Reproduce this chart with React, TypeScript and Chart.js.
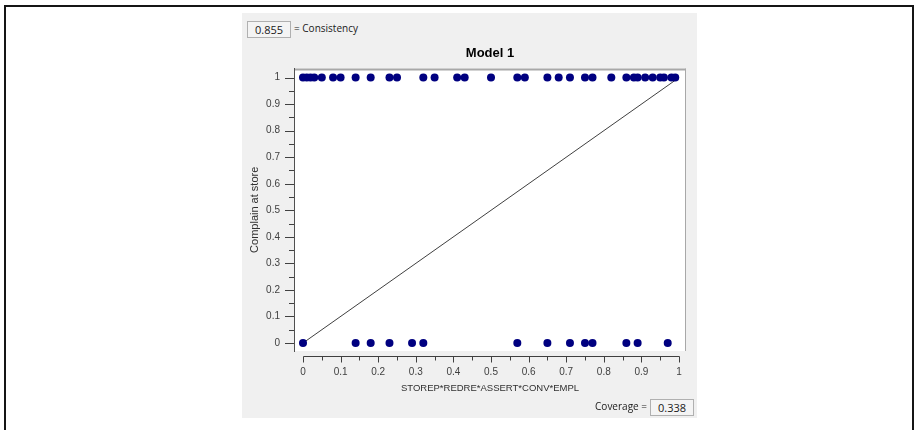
import React, { useEffect, useRef } from "react";
import { Chart, registerables } from "chart.js";

Chart.register(...registerables);

// ---- data ----
const chartTitle = "Model 1";
const xAxisTitle = "STOREP*REDRE*ASSERT*CONV*EMPL";
const yAxisTitle = "Complain at store";
const consistencyValue = "0.855";
const coverageValue = "0.338";

// cases with outcome = 1 (x = membership score)
const outcomeOneX = [
  0, 0.01, 0.02, 0.03, 0.05, 0.08, 0.1, 0.14, 0.18, 0.23, 0.25, 0.32, 0.35, 0.41, 0.43, 0.5,
  0.57, 0.59, 0.65, 0.68, 0.71, 0.75, 0.77, 0.82, 0.86, 0.88, 0.89, 0.91, 0.93, 0.95, 0.96,
  0.98, 0.99,
];
// cases with outcome = 0
const outcomeZeroX = [0, 0.14, 0.18, 0.23, 0.29, 0.32, 0.57, 0.65, 0.71, 0.75, 0.77, 0.86, 0.89, 0.97];
// diagonal reference line
const diagonalX = [0, 1];
const diagonalY = [0, 1];
// tick values
const majorTicks = [0, 0.1, 0.2, 0.3, 0.4, 0.5, 0.6, 0.7, 0.8, 0.9, 1];
const minorTicks = [0.05, 0.15, 0.25, 0.35, 0.45, 0.55, 0.65, 0.75, 0.85, 0.95];

const FONT = "'Liberation Sans', Arial, sans-serif";
const UI_FONT = "'Open Sans', 'Noto Sans', sans-serif";
const AXIS_COLOR = "#404040";

const plotBackground = {
  id: "plotBackground",
  beforeDraw(chart: any) {
    const { ctx, chartArea: a } = chart;
    ctx.save();
    ctx.fillStyle = "#ffffff";
    ctx.fillRect(a.left, a.top, a.right - a.left, a.bottom - a.top);
    ctx.strokeStyle = "#a8a8a8";
    ctx.lineWidth = 2;
    ctx.beginPath();
    ctx.moveTo(a.left, a.top + 1);
    ctx.lineTo(a.right, a.top + 1);
    ctx.stroke();
    ctx.lineWidth = 1;
    ctx.beginPath();
    ctx.moveTo(a.right - 0.5, a.top);
    ctx.lineTo(a.right - 0.5, a.bottom);
    ctx.stroke();
    ctx.restore();
  },
};

const axisTicks = {
  id: "axisTicks",
  afterDraw(chart: any) {
    const { ctx, chartArea: a, scales } = chart;
    const xs = scales.x;
    const ys = scales.y;
    ctx.save();
    ctx.strokeStyle = AXIS_COLOR;
    ctx.lineWidth = 1;
    ctx.beginPath();
    // y-axis tick marks
    majorTicks.forEach((v) => {
      const py = Math.round(ys.getPixelForValue(v)) + 0.5;
      ctx.moveTo(a.left - 9, py);
      ctx.lineTo(a.left, py);
    });
    minorTicks.forEach((v) => {
      const py = Math.round(ys.getPixelForValue(v)) + 0.5;
      ctx.moveTo(a.left - 5, py);
      ctx.lineTo(a.left, py);
    });
    // detached x axis
    const yy = Math.round(a.bottom + 5) + 0.5;
    const x0 = Math.round(xs.getPixelForValue(0)) + 0.5;
    const x1 = Math.round(xs.getPixelForValue(1)) + 0.5;
    ctx.moveTo(x0, yy);
    ctx.lineTo(x1, yy);
    majorTicks.forEach((v) => {
      const px = Math.round(xs.getPixelForValue(v)) + 0.5;
      ctx.moveTo(px, yy);
      ctx.lineTo(px, yy + 6);
    });
    minorTicks.forEach((v) => {
      const px = Math.round(xs.getPixelForValue(v)) + 0.5;
      ctx.moveTo(px, yy);
      ctx.lineTo(px, yy + 4);
    });
    ctx.stroke();
    ctx.restore();
  },
};

const fmt = (v: number) => String(Math.round(v * 10) / 10);

export default function App() {
  const ref = useRef<HTMLCanvasElement | null>(null);

  useEffect(() => {
    if (!ref.current) return;
    const chart = new Chart(ref.current, {
      type: "scatter",
      data: {
        datasets: [
          {
            type: "scatter",
            data: outcomeOneX.map((x) => ({ x, y: 1 })),
            backgroundColor: "#000080",
            borderWidth: 0,
            pointRadius: 4,
            order: 1,
          },
          {
            type: "scatter",
            data: outcomeZeroX.map((x) => ({ x, y: 0 })),
            backgroundColor: "#000080",
            borderWidth: 0,
            pointRadius: 4,
            order: 1,
          },
          {
            type: "line",
            data: diagonalX.map((x, i) => ({ x, y: diagonalY[i] })),
            borderColor: "#404040",
            borderWidth: 1,
            pointRadius: 0,
            fill: false,
            order: 2,
          } as any,
        ],
      },
      options: {
        responsive: false,
        animation: false,
        devicePixelRatio: 1,
        layout: { padding: { left: 242, right: 232, top: 40, bottom: 34 } },
        plugins: {
          legend: { display: false },
          tooltip: { enabled: false },
          title: {
            display: true,
            text: chartTitle,
            fullSize: false,
            color: "#000000",
            font: { family: FONT, size: 13, weight: "bold" },
            padding: { top: 6, bottom: 7 },
          },
        },
        scales: {
          x: {
            type: "linear",
            min: -9 / 376,
            max: 1 + 7 / 376,
            grid: { display: false, drawTicks: false },
            border: { display: false },
            afterBuildTicks: (s: any) => {
              s.ticks = majorTicks.map((v) => ({ value: v }));
            },
            afterFit: (s: any) => {
              s.height = 45;
            },
            ticks: {
              autoSkip: false,
              maxRotation: 0,
              padding: 15,
              color: AXIS_COLOR,
              font: { family: FONT, size: 10 },
              callback: (v: any) => fmt(Number(v)),
            },
            title: {
              display: true,
              text: xAxisTitle,
              color: "#303030",
              font: { family: FONT, size: 9.5 },
              padding: { top: 0, bottom: 2 },
            },
          },
          y: {
            type: "linear",
            min: -8 / 265,
            max: 1 + 9 / 265,
            grid: { display: false, drawTicks: false },
            border: { display: true, color: "#505050", width: 1 },
            afterBuildTicks: (s: any) => {
              s.ticks = majorTicks.map((v) => ({ value: v }));
            },
            afterFit: (s: any) => {
              s.width = 52;
            },
            ticks: {
              autoSkip: false,
              padding: 14,
              color: AXIS_COLOR,
              font: { family: FONT, size: 10 },
              callback: (v: any) => fmt(Number(v)),
            },
            title: {
              display: true,
              text: yAxisTitle,
              color: "#303030",
              font: { family: FONT, size: 11 },
              padding: { top: 6, bottom: 0 },
            },
          },
        },
      },
      plugins: [plotBackground, axisTicks],
    });
    return () => chart.destroy();
  }, []);

  const boxStyle: React.CSSProperties = {
    position: "absolute",
    boxSizing: "border-box",
    border: "1px solid #b0b0b0",
    background: "#f4f4f4",
    display: "flex",
    alignItems: "center",
    justifyContent: "center",
    font: `11px ${UI_FONT}`,
    color: "#202020",
  };

  return (
    <div
      style={{
        position: "fixed",
        left: 0,
        top: 0,
        width: 918,
        height: 430,
        background: "#ffffff",
        overflow: "hidden",
      }}
    >
      <div
        style={{
          position: "absolute",
          left: 4,
          top: 5,
          width: 910,
          height: 500,
          boxSizing: "border-box",
          border: "2px solid #151515",
        }}
      />
      <div
        style={{
          position: "absolute",
          left: 242,
          top: 13,
          width: 455,
          height: 405,
          background: "#f0f0f0",
        }}
      />
      <div style={{ ...boxStyle, left: 247, top: 21, width: 44, height: 17 }}>{consistencyValue}</div>
      <div
        style={{
          position: "absolute",
          left: 294,
          top: 21,
          height: 17,
          lineHeight: "17px",
          font: `10px ${UI_FONT}`,
          color: "#202020",
          whiteSpace: "nowrap",
        }}
      >
        = Consistency
      </div>
      <canvas
        ref={ref}
        width={918}
        height={430}
        style={{ position: "absolute", left: 0, top: 0, width: 918, height: 430 }}
      />
      <div
        style={{
          position: "absolute",
          right: 918 - 647,
          top: 399,
          height: 17,
          lineHeight: "17px",
          font: `10px ${UI_FONT}`,
          color: "#202020",
          whiteSpace: "nowrap",
        }}
      >
        Coverage =
      </div>
      <div style={{ ...boxStyle, left: 650, top: 399, width: 44, height: 17 }}>{coverageValue}</div>
    </div>
  );
}
